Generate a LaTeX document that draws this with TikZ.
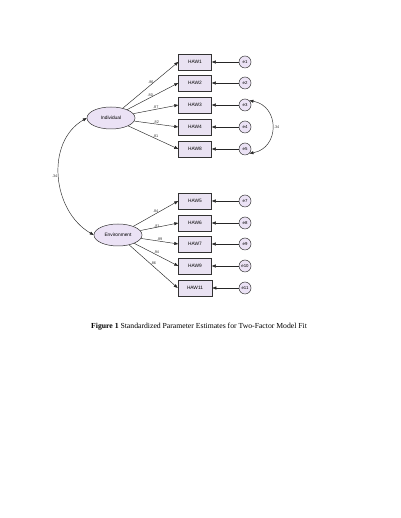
\documentclass[tikz,border=0pt]{standalone}
\usepackage{fontspec}
\setmainfont{Liberation Serif}
\newfontfamily\diagfont{Liberation Sans}
\usetikzlibrary{arrows.meta,shapes.geometric}
\definecolor{boxfill}{HTML}{E9E2F2}
\definecolor{ellfill}{HTML}{EBE2F5}
\tikzset{
  obs/.style={draw=black!80, line width=0.5pt, fill=boxfill, minimum width=33pt, minimum height=16pt, inner sep=0pt, font=\diagfont\fontsize{4.8}{5}\selectfont},
  lat/.style={ellipse, draw=black!80, line width=0.5pt, fill=ellfill, minimum width=48pt, minimum height=22pt, inner sep=0pt, font=\diagfont\fontsize{4.8}{5}\selectfont},
  err/.style={circle, draw=black!80, line width=0.5pt, fill=ellfill, minimum size=12pt, inner sep=0pt, font=\diagfont\fontsize{4.3}{5}\selectfont},
  path/.style={-{Triangle[length=4pt,width=3pt]}, line width=0.45pt, black!85},
  cov/.style={{Triangle[length=4pt,width=3pt]}-{Triangle[length=4pt,width=3pt]}, line width=0.45pt, black!85},
  coef/.style={font=\diagfont\fontsize{3.8}{4}\selectfont, inner sep=0.5pt, text=black!80}
}
\begin{document}
\begin{tikzpicture}[x=1pt,y=1pt]
\useasboundingbox (0,0) rectangle (400,518);
% latent
\node[lat] (ind) at (111,400) {Individual};
\node[lat] (env) at (118,283) {Environment};
% observed top
\node[obs] (h1) at (195,456) {HAW1};
\node[obs] (h2) at (195,435) {HAW2};
\node[obs] (h3) at (195,413) {HAW3};
\node[obs] (h4) at (195,391) {HAW4};
\node[obs] (h8) at (195,369) {HAW8};
% observed bottom
\node[obs] (h5) at (195,317) {HAW5};
\node[obs] (h6) at (195,295) {HAW6};
\node[obs] (h7) at (195,274) {HAW7};
\node[obs] (h9) at (195,252) {HAW9};
\node[obs, minimum width=34pt] (h11) at (195,230) {HAW11};
% errors
\node[err] (e1) at (245,456) {e1};
\node[err] (e2) at (245,435) {e2};
\node[err] (e3) at (245,413) {e3};
\node[err] (e4) at (245,391) {e4};
\node[err] (e5) at (245,369) {e5};
\node[err] (e7) at (245,317) {e7};
\node[err] (e8) at (245,295) {e8};
\node[err] (e9) at (245,274) {e9};
\node[err] (e10) at (245,252) {e10};
\node[err] (e11) at (245,230) {e11};
% loadings
\draw[path] (ind) -- (h1.west) node[coef, pos=0.55, above left=-1pt] {.86};
\draw[path] (ind) -- (h2.west) node[coef, pos=0.5, above left=-1pt] {.80};
\draw[path] (ind) -- (h3.west) node[coef, pos=0.5, above=0pt] {.87};
\draw[path] (ind) -- (h4.west) node[coef, pos=0.5, above=0pt] {.82};
\draw[path] (ind) -- (h8.west) node[coef, pos=0.5, above right=-1pt] {.81};
\draw[path] (env) -- (h5.west) node[coef, pos=0.55, above left=-1pt] {.84};
\draw[path] (env) -- (h6.west) node[coef, pos=0.5, above left=-1pt] {.81};
\draw[path] (env) -- (h7.west) node[coef, pos=0.5, above=0pt] {.89};
\draw[path] (env) -- (h9.west) node[coef, pos=0.45, above right=-1pt] {.94};
\draw[path] (env) -- (h11.west) node[coef, pos=0.45, above right=-1pt] {.86};
% error paths
\foreach \e/\h in {e1/h1,e2/h2,e3/h3,e4/h4,e5/h8,e7/h5,e8/h6,e9/h7,e10/h9,e11/h11}
  \draw[path] (\e) -- (\h.east);
% covariances
\draw[cov] (e3.north east) to[out=-10,in=10,looseness=1.5] node[coef, right=1pt] {.34} (e5.south east);
\draw[cov] (ind.west) to[out=210,in=150,looseness=1.05] node[coef, left=1pt] {.34} (env.west);
% caption
\node[font=\fontsize{7.7}{9}\selectfont, anchor=west, inner sep=0pt] (cap) at (91,191) {\textbf{Figure 1} Standardized Parameter Estimates for Two-Factor Model Fit};
\end{tikzpicture}
\end{document}
